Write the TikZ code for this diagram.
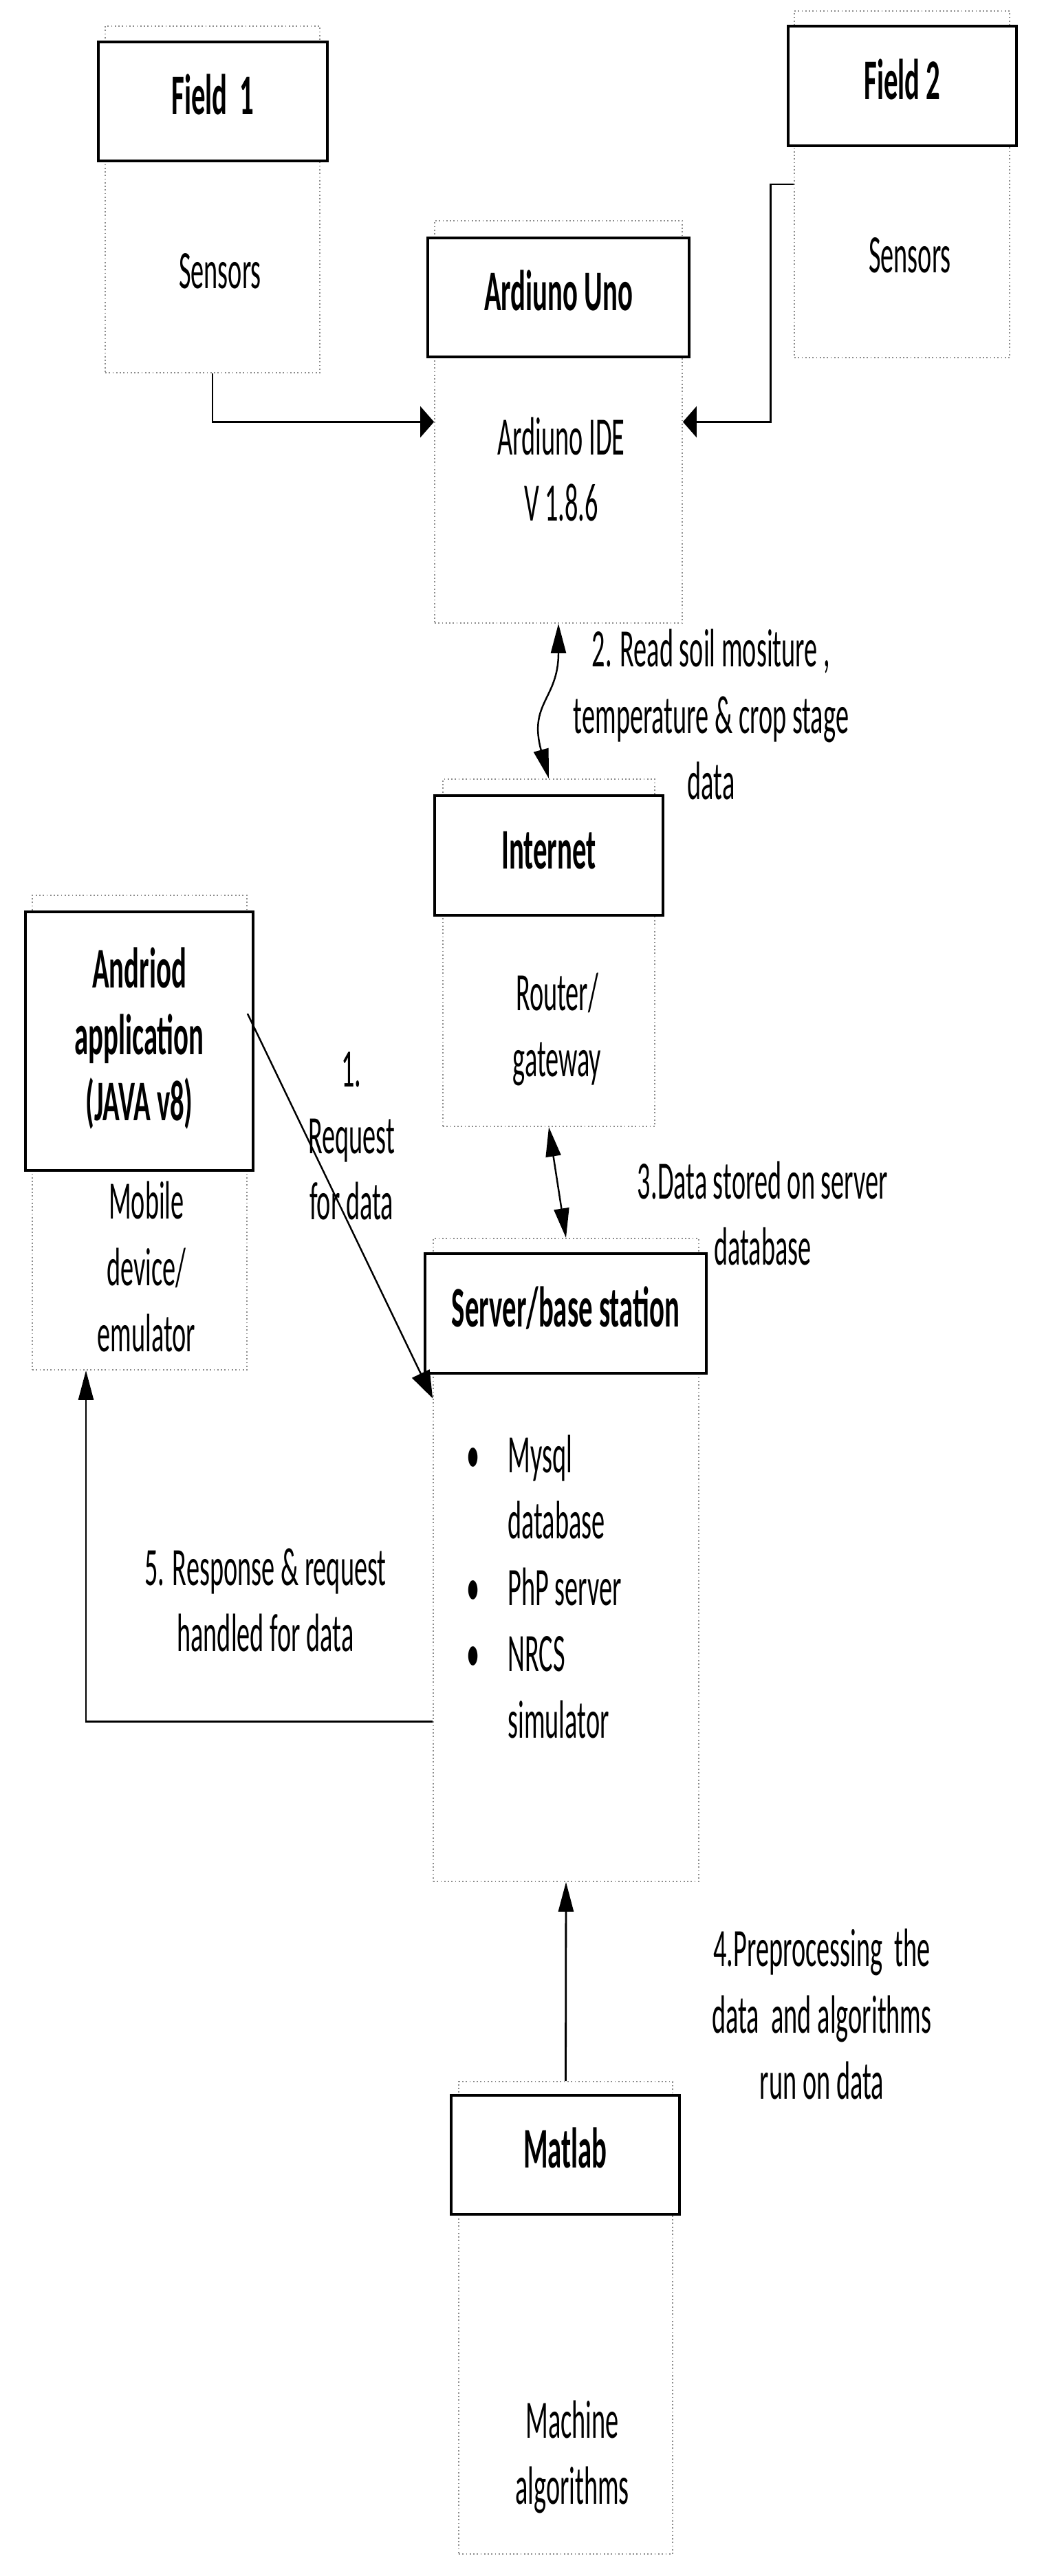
\documentclass[tikz,border=0pt]{standalone}
\usepackage{fontspec}
\setmainfont{Carlito}
\usepackage{graphicx}
\usetikzlibrary{arrows.meta, positioning}
\definecolor{cdot}{HTML}{8C8C8C}
\newcommand{\tall}[2][c]{\scalebox{1}[2.05]{\begin{tabular}{@{}#1@{}}#2\end{tabular}}}
\tikzset{
  every picture/.style={line width=0.8pt},
  panel/.style={draw=cdot, densely dotted, line width=0.5pt, inner sep=0pt, minimum width=3.12cm, minimum height=5.04cm},
  head/.style={draw, fill=white, line width=0.9pt, inner sep=0pt, minimum width=3.32cm, minimum height=1.73cm, font=\fontsize{11.6}{13.4}\selectfont\bfseries},
  body/.style={inner sep=0pt, font=\fontsize{10.9}{13.4}\selectfont},
  note/.style={inner sep=0pt, font=\fontsize{10.9}{13.4}\selectfont},
  harrow/.style={-{Triangle[length=0.2cm, width=0.45cm]}},
  varrow/.style={-{Triangle[length=0.43cm, width=0.22cm]}},
  darrow/.style={{Triangle[length=0.43cm, width=0.22cm]}-{Triangle[length=0.43cm, width=0.22cm]}, line width=0.7pt},
  slarrow/.style={-{Triangle[length=0.4cm, width=0.28cm]}, line width=0.7pt},
}
\begin{document}
\begin{tikzpicture}
  \useasboundingbox (0,0) rectangle (15.17,-37.46);
  \node[panel] (f1) at (3.09,-2.90) {};
  \node[head, minimum width=3.33cm] (f1h) at (3.095,-1.475) {\tall{Field\ \ 1}};
  \node[body] (f1s) at (3.20,-4.00) {\tall{Sensors}};
  \node[panel, minimum width=3.13cm] (f2) at (13.115,-2.68) {};
  \node[head, minimum height=1.74cm] (f2h) at (13.12,-1.25) {\tall{Field 2}};
  \node[body] (f2s) at (13.23,-3.77) {\tall{Sensors}};
  \node[panel, minimum width=3.6cm, minimum height=5.85cm] (ard) at (8.12,-6.135) {};
  \node[head, minimum width=3.8cm] (ardh) at (8.12,-4.325) {\tall{Ardiuno Uno}};
  \node[body] (ards) at (8.16,-6.90) {\tall{Ardiuno IDE\\V 1.8.6}};
  \node[panel, minimum width=3.08cm, minimum height=5.05cm] (net) at (7.98,-13.855) {};
  \node[head, minimum height=1.74cm] (neth) at (7.98,-12.44) {\tall{Internet}};
  \node[body] (nets) at (8.10,-14.98) {\tall{Router/\\gateway}};
  \node[panel, minimum height=6.90cm] (app) at (2.03,-16.47) {};
  \node[head, minimum width=3.31cm, minimum height=3.76cm] (apph) at (2.025,-15.14) {\tall{Andriod\\application\\(JAVA v8)}};
  \node[body] (apps) at (2.13,-18.50) {\tall{Mobile\\device/\\emulator}};
  \node[panel, minimum width=3.86cm, minimum height=9.35cm] (srv) at (8.23,-22.685) {};
  \node[head, minimum width=4.09cm, minimum height=1.74cm] (srvh) at (8.225,-19.10) {\tall{Server/base station}};
  \node[body, anchor=west] (srvs) at (6.77,-23.15) {\tall[l@{\hspace{0.41cm}}l]{\textbullet & Mysql\\ & database\\ \textbullet & PhP server\\ \textbullet & NRCS\\ & simulator}};
  \node[panel, minimum width=3.11cm, minimum height=6.87cm] (mat) at (8.225,-33.705) {};
  \node[head] (math) at (8.22,-31.335) {\tall{Matlab}};
  \node[body] (mats) at (8.32,-35.74) {\tall{Machine\\algorithms}};
  \draw[harrow] (f1) |- (ard);
  \draw[harrow] (f2.west) -- ++(-0.34,0) |- (ard);
  \draw[darrow] (ard.south) .. controls +(0,-1.1) and +(-0.3,1.1) .. (net.north);
  \draw[darrow] (net.south) -- (srv.north);
  \draw[slarrow] ([yshift=1.73cm]app.east) -- ([yshift=2.35cm]srv.west);
  \draw[varrow] ([yshift=-2.35cm]srv.west) -| ([xshift=-0.78cm]app.south);
  \draw[varrow] (mat.north) -- (srv.south);
  \node[note] (l2) at (10.34,-10.47) {\tall{2. Read soil mositure ,\\temperature \& crop stage\\data}};
  \node[note] (l1) at (5.11,-16.58) {\tall{1.\\Request\\for data}};
  \node[note] (l3) at (11.09,-17.72) {\tall{3.Data stored on server\\database}};
  \node[note] (l5) at (3.86,-23.34) {\tall{5. Response \& request\\handled for data}};
  \node[note] (l4) at (11.95,-29.37) {\tall{4.Preprocessing\ \ the\\data\ \ and algorithms\\run on data}};
\end{tikzpicture}
\end{document}
